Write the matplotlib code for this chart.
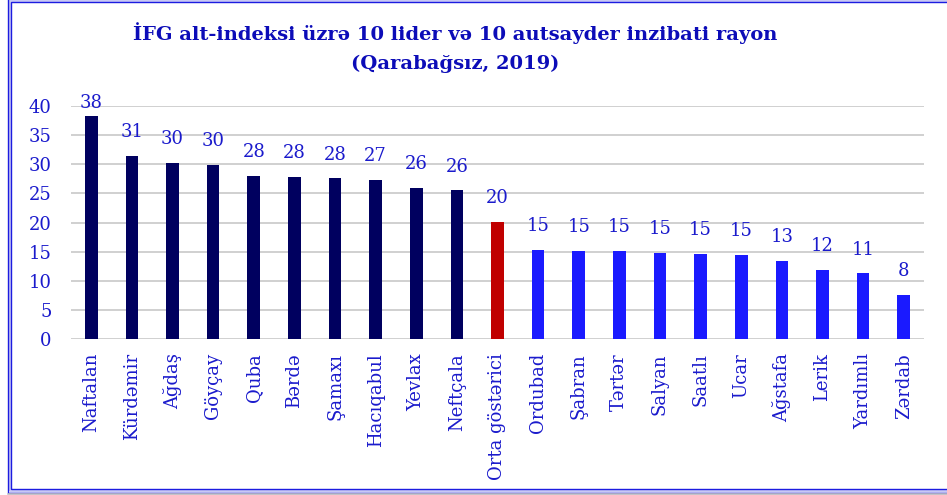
import matplotlib
matplotlib.use("Agg")
import matplotlib.pyplot as plt
from matplotlib.patches import Rectangle
from matplotlib.lines import Line2D

categories = ["Naftalan", "Kürdəmir", "Ağdaş", "Göyçay", "Quba", "Bərdə", "Şamaxı",
              "Hacıqabul", "Yevlax", "Neftçala", "Orta göstərici", "Ordubad", "Şabran",
              "Tərtər", "Salyan", "Saatlı", "Ucar", "Ağstafa", "Lerik", "Yardımlı", "Zərdab"]
values = [38.3, 31.4, 30.2, 29.9, 28.0, 27.8, 27.6, 27.3, 26.0, 25.5, 20.1,
          15.3, 15.1, 15.1, 14.8, 14.6, 14.5, 13.4, 11.9, 11.3, 7.6]
value_labels = ["38", "31", "30", "30", "28", "28", "28", "27", "26", "26", "20",
                "15", "15", "15", "15", "15", "15", "13", "12", "11", "8"]
groups = ["lider"] * 10 + ["orta"] + ["autsayder"] * 10
yticks = [0, 5, 10, 15, 20, 25, 30, 35, 40]
title = "İFG alt-indeksi üzrə 10 lider və 10 autsayder inzibati rayon\n(Qarabağsız, 2019)"

group_colors = {"lider": "#00005f", "orta": "#c00000", "autsayder": "#1a1aff"}
text_color = "#1a1acc"

plt.rcParams['font.family'] = ['DejaVu Serif']

W, H = 947, 495
fig = plt.figure(figsize=(W / 100, H / 100), dpi=100)
fig.patch.set_facecolor("white")
ax = fig.add_axes([71 / W, 1 - 339 / H, (924 - 71) / W, (339 - 106) / H])

x = list(range(len(categories)))
ax.bar(x, values, width=0.31, color=[group_colors[g] for g in groups], zorder=3)

for xi, v, lab in zip(x, values, value_labels):
    ax.text(xi, min(v + 3.2, 39.6), lab, ha="center", va="baseline",
            fontsize=13, color=text_color, clip_on=False, zorder=4)

ax.set_xlim(-0.5, len(categories) - 0.5)
ax.set_ylim(0, 40)
ax.set_yticks(yticks)
ax.set_yticklabels([str(t) for t in yticks])
ax.set_xticks(x)
ax.set_xticklabels(categories, rotation=90)
ax.tick_params(axis="both", length=0, labelsize=13, labelcolor=text_color)
ax.tick_params(axis="y", pad=14)
ax.tick_params(axis="x", pad=10)
ax.grid(axis="y", color="#d0d0d0", linewidth=1.4, zorder=0)
ax.set_axisbelow(True)
for s in ax.spines.values():
    s.set_visible(False)

fig.text(0.5 * (133 + 777) / W, 1 - 48 / H, title, ha="center", va="center",
         fontsize=14, fontweight="bold", color="#0c0cb8", linespacing=1.75)

# double border frame (display/pixel coordinates)
fig.add_artist(Rectangle((9.5, 4), 1000, 490.5, transform=None, fill=False,
                         edgecolor="#c8c8f4", linewidth=2.6))
fig.add_artist(Rectangle((8, 2.5), 1000, 500, transform=None, fill=False,
                         edgecolor="#1c1ce0", linewidth=1.0))
fig.add_artist(Rectangle((11, 6), 1000, 487.5, transform=None, fill=False,
                         edgecolor="#1c1ce0", linewidth=1.0))
fig.add_artist(Line2D([8, 1000], [1, 1], transform=None, color="#c0c0c0", linewidth=1.2))

fig.savefig("out.png", dpi=100)
